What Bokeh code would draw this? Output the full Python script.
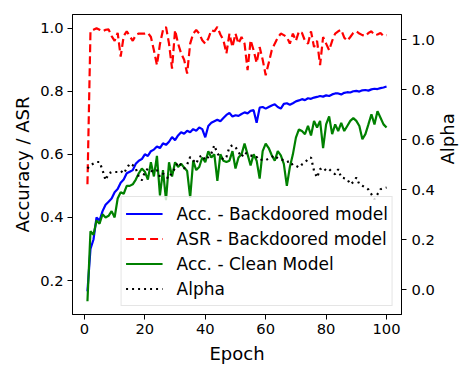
import math
from bokeh.plotting import figure
from bokeh.models import Range1d, LinearAxis, FixedTicker, PrintfTickFormatter
from bokeh.embed import file_html
from bokeh.resources import INLINE

epochs = list(range(1, 101))

acc_backdoored = [
    0.166, 0.30, 0.33, 0.40, 0.39, 0.42, 0.44, 0.45, 0.46, 0.48,
    0.49, 0.51, 0.52, 0.54, 0.545, 0.55, 0.57, 0.58, 0.585, 0.60,
    0.595, 0.61, 0.615, 0.625, 0.62, 0.635, 0.63, 0.64, 0.655, 0.645,
    0.66, 0.67, 0.665, 0.675, 0.67, 0.68, 0.675, 0.685, 0.68, 0.654,
    0.69, 0.70, 0.705, 0.71, 0.705, 0.715, 0.725, 0.731, 0.72, 0.724,
    0.722, 0.728, 0.733, 0.73, 0.738, 0.74, 0.70, 0.748, 0.75, 0.745,
    0.75, 0.755, 0.759, 0.75, 0.745, 0.76, 0.762, 0.757, 0.762, 0.768,
    0.771, 0.775, 0.772, 0.778, 0.776, 0.78, 0.782, 0.785, 0.783, 0.787,
    0.785, 0.79, 0.793, 0.793, 0.79, 0.795, 0.797, 0.796, 0.80, 0.801,
    0.799, 0.803, 0.804, 0.802, 0.806, 0.808, 0.807, 0.81, 0.812, 0.815,
]

asr_backdoored = [
    0.505, 0.99, 0.995, 1.0, 0.995, 0.99, 0.995, 0.996, 0.975, 0.96,
    0.985, 0.91, 0.975, 0.99, 0.975, 0.96, 0.978, 0.983, 0.983, 0.983,
    0.985, 0.972, 0.93, 0.883, 0.95, 0.994, 1.004, 0.951, 0.872, 0.994,
    0.951, 0.92, 0.90, 0.856, 0.951, 0.983, 0.994, 0.983, 0.962, 0.951,
    0.967, 0.994, 0.99, 1.004, 0.98, 0.962, 0.92, 0.983, 0.94, 0.983,
    0.951, 0.972, 0.951, 0.867, 0.962, 0.93, 0.89, 0.94, 0.90, 0.851,
    0.89, 0.93, 0.951, 0.97, 0.983, 0.978, 0.972, 0.951, 0.983, 0.96,
    0.99, 0.985, 0.96, 0.951, 0.99, 0.94, 0.96, 0.883, 0.972, 0.951,
    0.93, 0.96, 0.983, 0.99, 0.995, 0.97, 0.96, 0.972, 0.985, 0.99,
    0.983, 0.978, 0.975, 0.985, 0.99, 0.978, 0.98, 0.985, 0.975, 0.978,
]

acc_clean = [
    0.134, 0.356, 0.345, 0.39, 0.38, 0.41, 0.40, 0.405, 0.42, 0.40,
    0.46, 0.48, 0.475, 0.50, 0.50, 0.505, 0.52, 0.54, 0.555, 0.545,
    0.52, 0.575, 0.53, 0.595, 0.47, 0.55, 0.455, 0.575, 0.53, 0.575,
    0.56, 0.57, 0.558, 0.547, 0.463, 0.58, 0.55, 0.56, 0.59, 0.575,
    0.61, 0.59, 0.60, 0.516, 0.60, 0.58, 0.576, 0.58, 0.61, 0.555,
    0.59, 0.60, 0.634, 0.60, 0.565, 0.60, 0.58, 0.523, 0.61, 0.634,
    0.62, 0.597, 0.58, 0.61, 0.597, 0.57, 0.50, 0.56, 0.60, 0.653,
    0.679, 0.674, 0.664, 0.69, 0.66, 0.706, 0.685, 0.706, 0.62, 0.695,
    0.72, 0.664, 0.695, 0.674, 0.70, 0.674, 0.69, 0.706, 0.715, 0.706,
    0.69, 0.648, 0.664, 0.695, 0.727, 0.695, 0.737, 0.716, 0.695, 0.685,
]

alpha_vals = [
    0.484, 0.497, 0.504, 0.51, 0.51, 0.477, 0.437, 0.464, 0.47, 0.47,
    0.47, 0.475, 0.464, 0.484, 0.504, 0.497, 0.484, 0.45, 0.437, 0.47,
    0.484, 0.475, 0.47, 0.477, 0.45, 0.464, 0.45, 0.444, 0.47, 0.484,
    0.51, 0.497, 0.484, 0.50, 0.53, 0.517, 0.504, 0.53, 0.537, 0.517,
    0.53, 0.544, 0.577, 0.544, 0.53, 0.52, 0.53, 0.57, 0.577, 0.57,
    0.55, 0.53, 0.55, 0.54, 0.537, 0.53, 0.53, 0.517, 0.52, 0.517,
    0.524, 0.53, 0.537, 0.524, 0.52, 0.517, 0.51, 0.514, 0.497, 0.495,
    0.488, 0.50, 0.508, 0.521, 0.528, 0.475, 0.448, 0.481, 0.488, 0.475,
    0.481, 0.47, 0.461, 0.481, 0.448, 0.445, 0.441, 0.421, 0.43, 0.448,
    0.421, 0.415, 0.408, 0.40, 0.381, 0.361, 0.381, 0.401, 0.405, 0.408,
]

left_ticks = [0.2, 0.4, 0.6, 0.8, 1.0]
right_ticks = [0.0, 0.2, 0.4, 0.6, 0.8, 1.0]
x_ticks = [0, 20, 40, 60, 80, 100]

FONT = "DejaVu Sans"

p = figure(width=471, height=371, output_backend="svg", toolbar_location=None,
           x_range=Range1d(-3.95, 104.95), y_range=Range1d(0.0922, 1.0434),
           min_border_left=72, min_border_right=69, min_border_top=14, min_border_bottom=57)
p.extra_y_ranges = {"alpha": Range1d(-0.1, 1.1)}

p.xgrid.visible = False
p.ygrid.visible = False
p.outline_line_color = "black"
p.outline_line_width = 1
p.outline_line_alpha = 1

p.line(epochs, acc_backdoored, color="blue", line_width=2.2, legend_label="Acc. - Backdoored model")
p.line(epochs, asr_backdoored, color="red", line_width=2.2, line_dash="8 4", legend_label="ASR - Backdoored model")
p.line(epochs, acc_clean, color="green", line_width=2.2, legend_label="Acc. - Clean Model")
p.line(epochs, alpha_vals, color="black", line_width=2.2, line_dash="2 4", y_range_name="alpha", legend_label="Alpha")

right_axis = LinearAxis(y_range_name="alpha", axis_label="Alpha")
p.add_layout(right_axis, "right")

def style_axis(ax, ticks, fmt, label_standoff, tick_standoff):
    ax.ticker = FixedTicker(ticks=ticks)
    ax.formatter = PrintfTickFormatter(format=fmt)
    ax.minor_tick_line_color = None
    ax.major_tick_in = 0
    ax.major_tick_out = 5
    ax.major_tick_line_color = "black"
    ax.axis_line_color = "black"
    ax.major_label_text_font = FONT
    ax.major_label_text_font_size = "14.7px"
    ax.major_label_text_color = "black"
    ax.major_label_standoff = tick_standoff
    ax.axis_label_text_font = FONT
    ax.axis_label_text_font_size = "18px"
    ax.axis_label_text_font_style = "normal"
    ax.axis_label_text_color = "black"
    ax.axis_label_standoff = label_standoff

p.xaxis.axis_label = "Epoch"
p.yaxis[0].axis_label = "Accuracy / ASR"
style_axis(p.xaxis[0], x_ticks, "%d", 6, 4)
style_axis(p.yaxis[0], left_ticks, "%.1f", 4, 4)
style_axis(right_axis, right_ticks, "%.1f", 10, 5)
right_axis.axis_label_orientation = math.pi / 2

leg = p.legend[0]
leg.location = "bottom_right"
leg.margin = 8
leg.padding = 4
leg.spacing = 0
leg.glyph_width = 37
leg.glyph_height = 25
leg.label_height = 25
leg.label_standoff = 14
leg.label_text_font = FONT
leg.label_text_font_size = "17px"
leg.label_text_color = "black"
leg.border_line_color = "#cccccc"
leg.border_line_width = 1
leg.background_fill_color = "white"
leg.background_fill_alpha = 0.8

open("out.html", "w").write(file_html(p, INLINE))
